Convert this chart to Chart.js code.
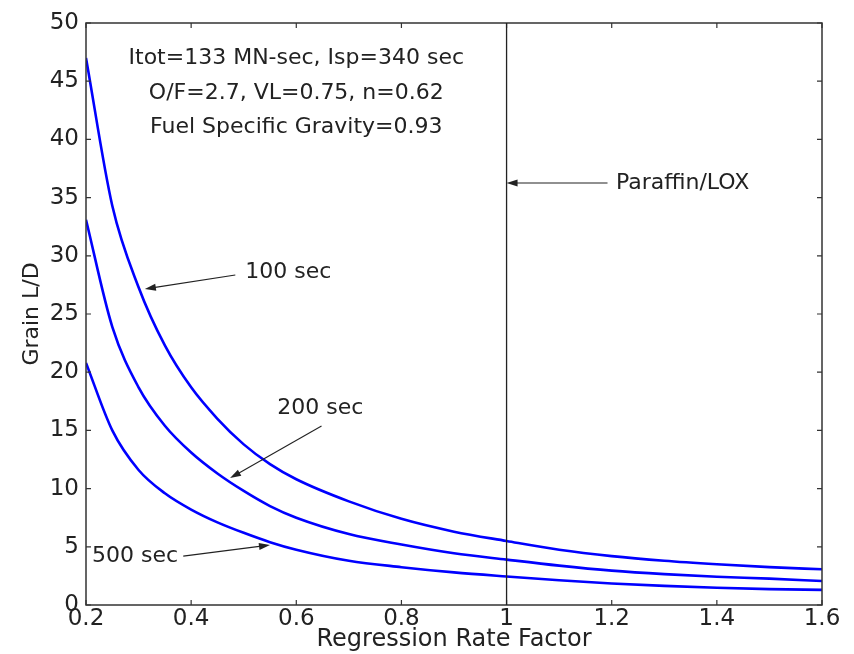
<!DOCTYPE html>
<html>
<head>
<meta charset="utf-8">
<script src="https://cdn.jsdelivr.net/npm/chart.js@4/dist/chart.umd.min.js"></script>
<style>
  html, body { margin: 0; padding: 0; background: #fff; }
  #wrap { width: 854px; height: 654px; }
</style>
</head>
<body>
<div id="wrap"><canvas id="ld_chart"></canvas></div>
<script>
// Regression rate factor (x) and grain L/D for each burn time
const rate_factor = [0.2, 0.25, 0.3, 0.35, 0.4, 0.45, 0.5, 0.55, 0.6, 0.7, 0.8, 0.9, 1.0, 1.1, 1.2, 1.3, 1.4, 1.5, 1.6];
const ld_100 = [47.0, 34.3, 27.3, 22.3, 18.7, 16.0, 13.8, 12.1, 10.8, 8.9, 7.4, 6.3, 5.5, 4.75, 4.2, 3.8, 3.5, 3.25, 3.07];
const ld_200 = [33.1, 23.9, 18.7, 15.4, 13.1, 11.3, 9.8, 8.5, 7.5, 6.1, 5.2, 4.45, 3.9, 3.38, 2.95, 2.65, 2.43, 2.27, 2.06];
const ld_500 = [20.8, 15.0, 11.6, 9.6, 8.2, 7.1, 6.2, 5.4, 4.75, 3.8, 3.25, 2.8, 2.45, 2.13, 1.85, 1.64, 1.48, 1.36, 1.3];

const x_ticks = [0.2, 0.4, 0.6, 0.8, 1.0, 1.2, 1.4, 1.6];
const y_ticks = [0, 5, 10, 15, 20, 25, 30, 35, 40, 45, 50];

const paraffin_lox = 1.0;
const info_lines = ['Itot=133 MN-sec, Isp=340 sec', 'O/F=2.7, VL=0.75, n=0.62', 'Fuel Specific Gravity=0.93'];

// annotation labels with arrows, in data units
const arrow_notes = [
  { text: 'Paraffin/LOX', tx: 1.208, ty: 36.25, from: [1.192, 36.25], to: [1.0, 36.25] },
  { text: '100 sec', tx: 0.503, ty: 28.6, from: [0.484, 28.35], to: [0.312, 27.15] },
  { text: '200 sec', tx: 0.564, ty: 16.9, from: [0.648, 15.38], to: [0.474, 10.9] },
  { text: '500 sec', tx: 0.2114, ty: 4.2, from: [0.385, 4.2], to: [0.55, 5.15] }
];

const FONT = '"DejaVu Sans", sans-serif';
const INK = '#222';

function makeSeries(ys) {
  var pts = [];
  for (var i = 0; i < rate_factor.length; i++) {
    pts.push({ x: rate_factor[i], y: ys[i] });
  }
  return pts;
}

function lineStyle(ys, name) {
  return {
    label: name,
    data: makeSeries(ys),
    borderColor: '#0000ff',
    borderWidth: 2.6,
    pointRadius: 0,
    fill: false,
    cubicInterpolationMode: 'monotone'
  };
}

function drawArrow(ctx, x1, y1, x2, y2) {
  var ang = Math.atan2(y2 - y1, x2 - x1);
  var len = 11, half = 3.5;
  ctx.beginPath();
  ctx.moveTo(x1, y1);
  ctx.lineTo(x2 - Math.cos(ang) * len * 0.8, y2 - Math.sin(ang) * len * 0.8);
  ctx.stroke();
  ctx.beginPath();
  ctx.moveTo(x2, y2);
  ctx.lineTo(x2 - Math.cos(ang) * len - Math.sin(ang) * half, y2 - Math.sin(ang) * len + Math.cos(ang) * half);
  ctx.lineTo(x2 - Math.cos(ang) * len + Math.sin(ang) * half, y2 - Math.sin(ang) * len - Math.cos(ang) * half);
  ctx.closePath();
  ctx.fill();
}

// frame, inward ticks, reference line and the text notes
const decorations = {
  id: 'decorations',
  afterDatasetsDraw(chart) {
    var ctx = chart.ctx;
    var a = chart.chartArea;
    var xs = chart.scales.x, ys = chart.scales.y;
    ctx.save();

    ctx.strokeStyle = '#333';
    ctx.lineWidth = 1.5;
    ctx.strokeRect(a.left, a.top, a.right - a.left, a.bottom - a.top);

    ctx.lineWidth = 1.2;
    ctx.beginPath();
    x_ticks.forEach(function (v) {
      var px = xs.getPixelForValue(v);
      ctx.moveTo(px, a.bottom); ctx.lineTo(px, a.bottom - 5);
      ctx.moveTo(px, a.top); ctx.lineTo(px, a.top + 5);
    });
    y_ticks.forEach(function (v) {
      var py = ys.getPixelForValue(v);
      ctx.moveTo(a.left, py); ctx.lineTo(a.left + 5, py);
      ctx.moveTo(a.right, py); ctx.lineTo(a.right - 5, py);
    });
    ctx.stroke();

    // Paraffin/LOX reference line
    var lx = xs.getPixelForValue(paraffin_lox);
    ctx.strokeStyle = '#222';
    ctx.lineWidth = 1.3;
    ctx.beginPath();
    ctx.moveTo(lx, a.top); ctx.lineTo(lx, a.bottom);
    ctx.stroke();

    ctx.fillStyle = INK;
    ctx.font = '22px ' + FONT;
    ctx.textBaseline = 'middle';

    // info block
    ctx.textAlign = 'center';
    var cx = xs.getPixelForValue(0.6);
    var rows = [47.0, 44.0, 41.07];
    for (var i = 0; i < info_lines.length; i++) {
      ctx.fillText(info_lines[i], cx, ys.getPixelForValue(rows[i]));
    }

    // labels with arrows
    ctx.textAlign = 'left';
    ctx.strokeStyle = '#222';
    ctx.lineWidth = 1.1;
    arrow_notes.forEach(function (n) {
      ctx.fillText(n.text, xs.getPixelForValue(n.tx), ys.getPixelForValue(n.ty));
      drawArrow(ctx,
        xs.getPixelForValue(n.from[0]), ys.getPixelForValue(n.from[1]),
        xs.getPixelForValue(n.to[0]), ys.getPixelForValue(n.to[1]));
    });

    ctx.restore();
  }
};

var ctx = document.getElementById('ld_chart').getContext('2d');
var ldChart = new Chart(ctx, {
  type: 'line',
  data: {
    datasets: [
      lineStyle(ld_100, '100 sec'),
      lineStyle(ld_200, '200 sec'),
      lineStyle(ld_500, '500 sec')
    ]
  },
  options: {
    responsive: true,
    maintainAspectRatio: false,
    animation: false,
    layout: { padding: { top: 23, right: 32, left: 0, bottom: 0 } },
    plugins: {
      legend: { display: false },
      tooltip: { enabled: false }
    },
    scales: {
      x: {
        type: 'linear',
        min: 0.2,
        max: 1.6,
        afterFit: function (scale) { scale.height = 49; },
        afterBuildTicks: function (scale) {
          scale.ticks = x_ticks.map(function (v) { return { value: v }; });
        },
        grid: { display: false, drawTicks: false },
        border: { display: false },
        ticks: {
          padding: 0,
          color: INK,
          font: { family: FONT, size: 23 },
          maxRotation: 0,
          autoSkip: false,
          callback: function (v) { return String(Number(v.toFixed(1))); }
        },
        title: {
          display: true,
          text: 'Regression Rate Factor',
          color: INK,
          font: { family: FONT, size: 24 },
          padding: { top: 0, bottom: 0 }
        }
      },
      y: {
        min: 0,
        max: 50,
        afterFit: function (scale) { scale.width = 86; },
        afterBuildTicks: function (scale) {
          scale.ticks = y_ticks.map(function (v) { return { value: v }; });
        },
        grid: { display: false, drawTicks: false },
        border: { display: false },
        ticks: {
          padding: 7,
          color: INK,
          font: { family: FONT, size: 23 },
          autoSkip: false
        },
        title: {
          display: true,
          text: 'Grain L/D',
          color: INK,
          font: { family: FONT, size: 22 },
          padding: { top: 19, bottom: 0 }
        }
      }
    }
  },
  plugins: [decorations]
});
</script>
</body>
</html>
